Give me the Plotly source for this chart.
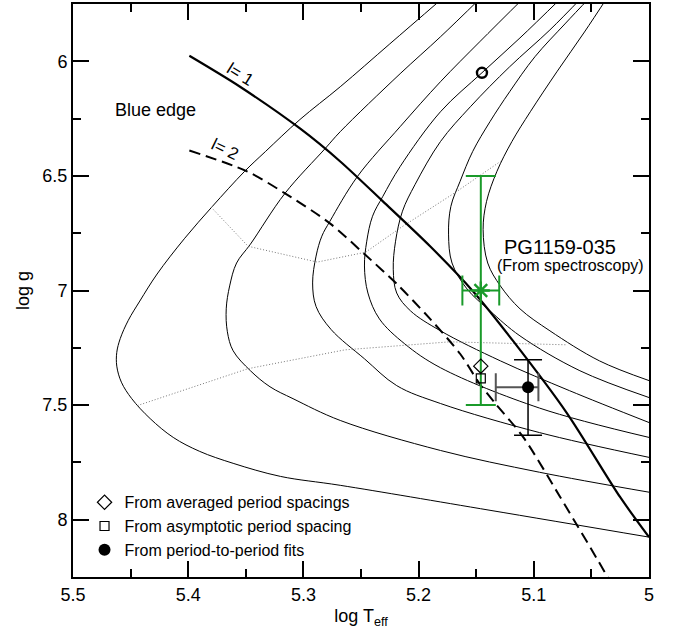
import plotly.graph_objects as go

# ---------------- evolutionary tracks (log Teff, log g) ----------------
track1_logT = [5.181, 5.225, 5.268, 5.303, 5.333, 5.351, 5.379, 5.403, 5.427, 5.442, 5.452, 5.459, 5.462, 5.462, 5.458, 5.449, 5.433, 5.413, 5.390, 5.361, 5.320, 5.268, 5.138, 5.000]
track1_logg = [5.733, 5.924, 6.111, 6.254, 6.394, 6.480, 6.633, 6.772, 6.928, 7.046, 7.130, 7.210, 7.270, 7.330, 7.400, 7.472, 7.559, 7.641, 7.702, 7.754, 7.811, 7.850, 7.959, 8.076]

track2_logT = [5.147, 5.181, 5.216, 5.268, 5.281, 5.316, 5.346, 5.358, 5.364, 5.367, 5.366, 5.361, 5.346, 5.329, 5.309, 5.268, 5.181, 5.095, 5.000]
track2_logg = [5.728, 5.893, 6.054, 6.307, 6.380, 6.576, 6.798, 6.880, 6.980, 7.080, 7.180, 7.263, 7.350, 7.420, 7.472, 7.567, 7.698, 7.793, 7.880]

track3_logT = [5.108, 5.147, 5.181, 5.216, 5.253, 5.277, 5.284, 5.289, 5.292, 5.289, 5.276, 5.247, 5.219, 5.181, 5.095, 5.000]
track3_logg = [5.720, 5.915, 6.089, 6.285, 6.502, 6.698, 6.763, 6.850, 6.967, 7.070, 7.170, 7.298, 7.415, 7.493, 7.620, 7.728]

track4_logT = [5.077, 5.112, 5.145, 5.181, 5.216, 5.231, 5.240, 5.245, 5.247, 5.244, 5.234, 5.212, 5.181, 5.095, 5.000]
track4_logg = [5.728, 5.898, 6.050, 6.220, 6.459, 6.589, 6.676, 6.785, 6.893, 7.011, 7.124, 7.233, 7.337, 7.513, 7.641]

track5_logT = [5.058, 5.086, 5.121, 5.155, 5.181, 5.203, 5.214, 5.220, 5.222, 5.219, 5.207, 5.181, 5.129, 5.069, 5.000]
track5_logg = [5.720, 5.863, 6.024, 6.198, 6.350, 6.537, 6.654, 6.785, 6.907, 7.011, 7.089, 7.176, 7.307, 7.437, 7.576]

track6_logT = [5.051, 5.073, 5.099, 5.121, 5.138, 5.153, 5.164, 5.172, 5.174, 5.171, 5.158, 5.138, 5.112, 5.060, 5.000]
track6_logg = [5.720, 5.837, 5.980, 6.133, 6.263, 6.393, 6.524, 6.633, 6.754, 6.880, 6.993, 7.089, 7.198, 7.350, 7.467]

track7_logT = [5.036, 5.056, 5.080, 5.103, 5.119, 5.132, 5.141, 5.144, 5.140, 5.129, 5.112, 5.086, 5.043, 5.000]
track7_logg = [5.720, 5.872, 6.046, 6.220, 6.350, 6.480, 6.611, 6.733, 6.880, 6.980, 7.080, 7.176, 7.307, 7.393]

# ---------------- blue edges ----------------
edge_l1_logT = [5.399, 5.355, 5.303, 5.268, 5.231, 5.190, 5.153, 5.118, 5.071, 5.025, 5.000]
edge_l1_logg = [5.976, 6.111, 6.293, 6.437, 6.611, 6.807, 7.002, 7.220, 7.537, 7.902, 8.076]

edge_l2_logT = [5.399, 5.349, 5.316, 5.277, 5.247, 5.219, 5.190, 5.164, 5.147, 5.134, 5.109, 5.077, 5.036, 5.031]
edge_l2_logg = [6.389, 6.480, 6.576, 6.707, 6.841, 6.971, 7.124, 7.276, 7.407, 7.489, 7.641, 7.902, 8.250, 8.298]

# ---------------- dotted isochrones ----------------
iso_upper_logT = [5.380, 5.348, 5.288, 5.246, 5.215, 5.168, 5.129]
iso_upper_logg = [6.637, 6.807, 6.876, 6.833, 6.724, 6.572, 6.437]

iso_lower_logT = [5.444, 5.348, 5.264, 5.173, 5.071]
iso_lower_logg = [7.502, 7.341, 7.259, 7.224, 7.237]

# ---------------- observed / derived points ----------------
spec_logT, spec_logg = [5.146], [7.0]
spec_err_T, spec_err_g = [0.016], [0.5]

open_circle_logT, open_circle_logg = [5.145], [6.05]

avg_spacing_logT, avg_spacing_logg = [5.146], [7.33]
asym_spacing_logT, asym_spacing_logg = [5.146], [7.383]

fit_logT, fit_logg = [5.105], [7.422]
fit_err_T_plus, fit_err_T_minus = [0.028], [0.009]
fit_err_g_plus, fit_err_g_minus = [0.21], [0.12]

x_tickvals = [5.5, 5.4, 5.3, 5.2, 5.1, 5.0]
x_ticktext = ["5.5", "5.4", "5.3", "5.2", "5.1", "5"]
y_tickvals = [6.0, 6.5, 7.0, 7.5, 8.0]
y_ticktext = ["6", "6.5", "7", "7.5", "8"]

FONT = "Liberation Sans, Arial, Helvetica, sans-serif"
GREEN = "#1a9a2a"

fig = go.Figure()

tracks = [(track1_logT, track1_logg), (track2_logT, track2_logg), (track3_logT, track3_logg),
          (track4_logT, track4_logg), (track5_logT, track5_logg), (track6_logT, track6_logg),
          (track7_logT, track7_logg)]
for T, g in tracks:
    fig.add_trace(go.Scatter(x=T, y=g, mode="lines", showlegend=False, hoverinfo="skip",
                             line=dict(color="black", width=1, shape="spline", smoothing=1.0)))

for T, g in [(iso_upper_logT, iso_upper_logg), (iso_lower_logT, iso_lower_logg)]:
    fig.add_trace(go.Scatter(x=T, y=g, mode="lines", showlegend=False, hoverinfo="skip",
                             line=dict(color="#777777", width=1, dash="1px,2px")))

fig.add_trace(go.Scatter(x=edge_l1_logT, y=edge_l1_logg, mode="lines", showlegend=False,
                         line=dict(color="black", width=2.2, shape="spline", smoothing=0.8)))
fig.add_trace(go.Scatter(x=edge_l2_logT, y=edge_l2_logg, mode="lines", showlegend=False,
                         line=dict(color="black", width=2, dash="11px,6px", shape="spline", smoothing=0.8)))

# spectroscopic value (green)
fig.add_trace(go.Scatter(x=spec_logT, y=spec_logg, mode="markers", showlegend=False,
                         marker=dict(symbol="asterisk", size=15, color=GREEN,
                                     line=dict(color=GREEN, width=2.4)),
                         error_x=dict(type="data", array=spec_err_T, color=GREEN, thickness=2, width=15),
                         error_y=dict(type="data", array=spec_err_g, color=GREEN, thickness=2, width=15)))

fig.add_trace(go.Scatter(x=open_circle_logT, y=open_circle_logg, mode="markers", showlegend=False,
                         marker=dict(symbol="circle-open", size=10, color="black", line=dict(width=2.4))))

fig.add_trace(go.Scatter(x=avg_spacing_logT, y=avg_spacing_logg, mode="markers",
                         name="From averaged period spacings",
                         marker=dict(symbol="diamond-open", size=11, color="black", line=dict(width=1.2))))
fig.add_trace(go.Scatter(x=asym_spacing_logT, y=asym_spacing_logg, mode="markers",
                         name="From asymptotic period spacing",
                         marker=dict(symbol="square-open", size=9, color="black", line=dict(width=1.2))))
fig.add_trace(go.Scatter(x=fit_logT, y=fit_logg, mode="markers",
                         name="From period-to-period fits",
                         marker=dict(symbol="circle", size=12, color="black"),
                         error_x=dict(type="data", array=fit_err_T_plus, arrayminus=fit_err_T_minus,
                                      color="#555555", thickness=2, width=14),
                         error_y=dict(type="data", array=fit_err_g_plus, arrayminus=fit_err_g_minus,
                                      color="black", thickness=1.5, width=14)))

annotations = [
    dict(x=5.428, y=6.211, text="Blue edge", font=dict(size=18)),
    dict(x=5.355, y=6.059, text="l= 1", font=dict(size=17), textangle=32),
    dict(x=5.368, y=6.385, text="l= 2", font=dict(size=17), textangle=26),
    dict(x=5.077, y=6.812, text="PG1159-035", font=dict(size=20)),
    dict(x=5.068, y=6.892, text="(From spectroscopy)", font=dict(size=16)),
]
for a in annotations:
    a.update(xref="x", yref="y", showarrow=False)
    a["font"].update(family=FONT, color="black")

axis_common = dict(showline=True, linewidth=2, linecolor="black", mirror="allticks",
                   ticks="inside", ticklen=16, tickwidth=1.5, tickcolor="black",
                   showgrid=False, zeroline=False,
                   tickfont=dict(family=FONT, size=18, color="black"))

fig.update_layout(
    width=675, height=633,
    margin=dict(l=73, r=26, t=2, b=56),
    paper_bgcolor="white", plot_bgcolor="white",
    font=dict(family=FONT, color="black"),
    annotations=annotations,
    showlegend=True,
    legend=dict(x=0.02, y=0.16, xanchor="left", yanchor="top", bgcolor="rgba(0,0,0,0)",
                font=dict(family=FONT, size=16, color="black"), itemsizing="trace"),
    xaxis=dict(range=[5.5, 5.0], tickmode="array", tickvals=x_tickvals, ticktext=x_ticktext,
               minor=dict(tickmode="linear", tick0=5.0, dtick=0.05, ticks="inside", ticklen=8,
                          tickwidth=1.5, tickcolor="black", showgrid=False),
               title=dict(text="log T<sub>eff</sub>", font=dict(family=FONT, size=18), standoff=6),
               **axis_common),
    yaxis=dict(range=[8.25, 5.75], tickmode="array", tickvals=y_tickvals, ticktext=y_ticktext,
               minor=dict(tickmode="linear", tick0=6.0, dtick=0.25, ticks="inside", ticklen=8,
                          tickwidth=1.5, tickcolor="black", showgrid=False),
               title=dict(text="log g", font=dict(family=FONT, size=18), standoff=8),
               **axis_common),
)

fig.write_html("out.html", config={"displayModeBar": False},
               post_script="document.body.style.margin='0px';")
